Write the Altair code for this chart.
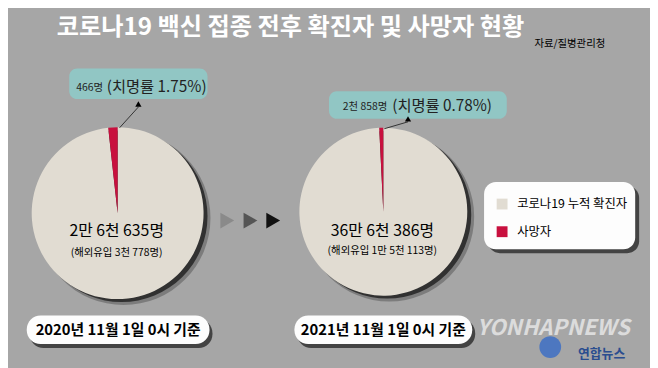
import altair as alt
import pandas as pd

# ---------------- data ----------------
title_text = "코로나19 백신 접종 전후 확진자 및 사망자 현황"
source_text = "자료/질병관리청"
dates = ["2020년 11월 1일 0시 기준", "2021년 11월 1일 0시 기준"]
confirmed = [26635, 366386]
deaths = [466, 2858]
confirmed_text = ["2만 6천 635명", "36만 6천 386명"]
imported_text = ["(해외유입 3천 778명)", "(해외유입 1만 5천 113명)"]
death_text = ["466명", "2천 858명"]
rate_text = ["(치명률 1.75%)", "(치명률 0.78%)"]
categories = ["코로나19 누적 확진자", "사망자"]
colors = ["#e1dcd2", "#c8103e"]
watermark = ["YONHAPNEWS", "연합뉴스"]

FONT = "Noto Sans CJK KR"
BG = "#a6a6a6"
OX, OY = 8, 8


def px(v):
    return v - OX


def py(v):
    return v - OY


dummy = pd.DataFrame({"d": [0]})


def txt(s, x, y, size, color="black", weight="normal", align="center", style="normal", opacity=1.0):
    return alt.Chart(pd.DataFrame({"t": [s]})).mark_text(
        font=FONT, fontSize=size, color=color, fontWeight=weight, align=align,
        baseline="middle", fontStyle=style, opacity=opacity
    ).encode(text="t:N", x=alt.value(px(x)), y=alt.value(py(y)))


def box(x1, y1, x2, y2, color, radius=0, opacity=1.0):
    return alt.Chart(dummy).mark_rect(color=color, cornerRadius=radius, opacity=opacity).encode(
        x=alt.value(px(x1)), x2=alt.value(px(x2)), y=alt.value(py(y1)), y2=alt.value(py(y2))
    )


def disc(cx, cy, r, color, opacity):
    return alt.Chart(dummy).mark_arc(outerRadius=r, color=color, opacity=opacity).encode(
        theta=alt.value(6.2832), x=alt.value(px(cx)), y=alt.value(py(cy))
    )


layers = []

# title
layers.append(txt(title_text, 294, 26, 24.5, color="white", weight="bold"))
layers.append(txt(source_text, 541, 42, 10.5, align="left"))

pie_geo = [(119, 213.5, 87), (388, 212, 85)]
teal_geo = [(70, 67, 210, 98), (333, 90, 513, 118)]
label_geo = [(77, 108, 86), (347, 397, 105)]
tri_geo = [(140, 103, 121, 127), (413, 118, 389, 128)]
box_geo = [(27, 317, 212, 346), (298, 317, 478, 346)]

for i in range(2):
    cx, cy, r = pie_geo[i]
    # shadow
    layers.append(disc(cx + 6, cy + 5, r + 1, "#000000", 0.25))
    layers.append(disc(cx + 4, cy + 3, r, "#111111", 0.7))
    df = pd.DataFrame({
        "category": categories,
        "value": [confirmed[i] - deaths[i], deaths[i]],
        "order": [0, 1],
    })
    layers.append(
        alt.Chart(df).mark_arc(outerRadius=r).encode(
            theta=alt.Theta("value:Q", stack="normalize"),
            color=alt.Color(
                "category:N",
                scale=alt.Scale(domain=categories, range=colors),
                sort=categories,
                legend=alt.Legend(
                    title=None, orient="none", legendX=px(502), legendY=py(198),
                    symbolType="square", symbolSize=121, symbolStrokeWidth=0,
                    symbolOpacity=1, labelFont=FONT, labelFontSize=12.5,
                    labelColor="black", labelOffset=9, rowPadding=15, padding=0,
                ),
            ),
            order=alt.Order("order:Q"),
            x=alt.value(px(cx)),
            y=alt.value(py(cy)),
        )
    )
    layers.append(txt(confirmed_text[i], cx - 1, 232, 16))
    layers.append(txt(imported_text[i], cx - 1, 254 if i == 0 else 252, 10.5))

    # death-rate annotation
    x1, y1, x2, y2 = teal_geo[i]
    layers.append(box(x1, y1, x2, y2, "#8fc7c5", radius=8, opacity=0.95))
    lx1, lx2, ly = label_geo[i]
    layers.append(txt(death_text[i], lx1, ly + 1, 10.5, color="#222222", align="left"))
    layers.append(txt(rate_text[i], lx2, ly, 15.5, color="#222222", align="left"))
    tx, ty, ex, ey = tri_geo[i]
    layers.append(
        alt.Chart(dummy).mark_rule(color="#333333", strokeWidth=1).encode(
            x=alt.value(px(tx)), y=alt.value(py(ty + 3)), x2=alt.value(px(ex)), y2=alt.value(py(ey))
        )
    )
    layers.append(
        alt.Chart(dummy).mark_point(shape="triangle-up", filled=True, size=40, color="black", opacity=1).encode(
            x=alt.value(px(tx)), y=alt.value(py(ty))
        )
    )

    # date boxes
    bx1, by1, bx2, by2 = box_geo[i]
    layers.append(box(bx1 + 3, by1 + 4, bx2 + 3, by2 + 4, "#222222", radius=14, opacity=0.75))
    layers.append(box(bx1, by1, bx2, by2, "#fdfdfd", radius=14))
    layers.append(txt(dates[i], (bx1 + bx2) / 2, (by1 + by2) / 2, 15, weight="bold"))

# arrows between pies
for ax, col in [(230, "#8a8a8a"), (253.5, "#555555"), (276.5, "#111111")]:
    layers.append(
        alt.Chart(dummy).mark_point(shape="triangle-right", filled=True, size=260, color=col, opacity=1).encode(
            x=alt.value(px(ax)), y=alt.value(py(221))
        )
    )

# legend box (drawn behind legend)
layers.insert(0, box(490, 182, 643, 250, "#fdfdfd", radius=12))
layers.insert(0, box(494, 186, 647, 254, "#222222", radius=12, opacity=0.75))

# watermark
layers.append(
    alt.Chart(dummy).mark_arc(outerRadius=11, color="#3d6fc4", opacity=0.85).encode(
        theta=alt.value(6.2832), x=alt.value(px(557)), y=alt.value(py(349))
    )
)
layers.append(txt(watermark[0], 560, 330, 22, color="#f4f4f4", weight="bold", style="italic", opacity=0.7))
layers.append(txt(watermark[1], 609, 356, 13, color="#2a4d8f", weight="bold"))

chart = alt.layer(*layers).resolve_scale(theta="independent").properties(
    width=650, height=360, background=BG, padding=0, autosize="none"
).configure_view(strokeWidth=0)

chart.save("out.html", embed_options={"renderer": "svg", "actions": False})
